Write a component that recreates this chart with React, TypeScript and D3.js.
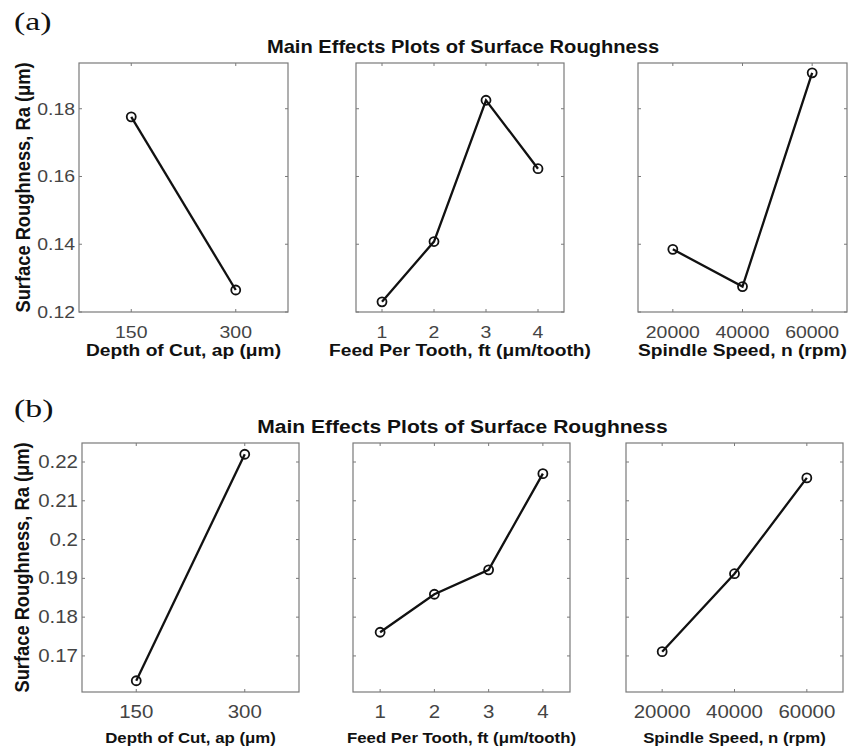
import React from "react";
import * as d3 from "d3";

const depthLevels = [150, 300];
const feedLevels = [1, 2, 3, 4];
const speedLevels = [20000, 40000, 60000];

const raA_depth = [0.1776, 0.1265];
const raA_feed = [0.123, 0.1408, 0.1825, 0.1623];
const raA_speed = [0.1385, 0.1275, 0.1906];

const raB_depth = [0.1636, 0.222];
const raB_feed = [0.1761, 0.1859, 0.1922, 0.217];
const raB_speed = [0.1711, 0.1912, 0.2159];

const yTicksA = [0.12, 0.14, 0.16, 0.18];
const yTickLabelsA = ["0.12", "0.14", "0.16", "0.18"];
const yTicksB = [0.17, 0.18, 0.19, 0.2, 0.21, 0.22];
const yTickLabelsB = ["0.17", "0.18", "0.19", "0.2", "0.21", "0.22"];

const xLabels = ["Depth of Cut, ap (μm)", "Feed Per Tooth, ft (μm/tooth)", "Spindle Speed, n (rpm)"];
const title = "Main Effects Plots of Surface Roughness";
const yLabel = "Surface Roughness, Ra (μm)";

const xDomains: [number, number][] = [[75, 375], [0.5, 4.5], [10000, 70000]];
const levels = [depthLevels, feedLevels, speedLevels];

const SANS = "'Liberation Sans', Arial, sans-serif";
const SERIF = "'Liberation Serif', 'Times New Roman', serif";
const SX = 1.15;

type FigCfg = {
  tag: string;
  tagY: number;
  titleY: number;
  titleSize: number;
  top: number;
  bottom: number;
  boxes: [number, number][];
  yDomain: [number, number];
  yTicks: number[];
  yTickLabels: string[];
  series: number[][];
  tickLabelY: number;
  xLabelY: number;
  xLabelSize: number;
  yLabelX: number;
  tickSize: number;
};

const figs: FigCfg[] = [
  {
    tag: "(a)", tagY: 30, titleY: 53, titleSize: 17.5,
    top: 63, bottom: 312,
    boxes: [[79, 288], [356, 564], [638, 847]],
    yDomain: [0.12, 0.1935],
    yTicks: yTicksA, yTickLabels: yTickLabelsA,
    series: [raA_depth, raA_feed, raA_speed],
    tickLabelY: 338, xLabelY: 356, xLabelSize: 16.7, yLabelX: 29.5, tickSize: 16.9,
  },
  {
    tag: "(b)", tagY: 417, titleY: 433, titleSize: 18.3,
    top: 443, bottom: 692,
    boxes: [[82, 299], [353, 570], [626, 843]],
    yDomain: [0.1607, 0.2249],
    yTicks: yTicksB, yTickLabels: yTickLabelsB,
    series: [raB_depth, raB_feed, raB_speed],
    tickLabelY: 718, xLabelY: 743, xLabelSize: 14.6, yLabelX: 29, tickSize: 17.8,
  },
];

const BOX = "#7a7a7a";
const TL = 3;

function T(props: { x: number; y: number; sx?: number; children: React.ReactNode; [k: string]: any }) {
  const { x, y, sx = SX, children, ...rest } = props;
  return (
    <text transform={`translate(${x},${y}) scale(${sx},1)`} {...rest}>{children}</text>
  );
}

function Figure({ f }: { f: FigCfg }) {
  const y = d3.scaleLinear().domain(f.yDomain).range([f.bottom, f.top]);
  const cx = (f.boxes[0][0] + f.boxes[2][1]) / 2;
  return (
    <g>
      <T x={14} y={f.tagY} sx={1.3} fontFamily={SERIF} fontSize={26} fill="#111">{f.tag}</T>
      <T x={cx} y={f.titleY} textAnchor="middle" fontFamily={SANS} fontWeight="bold" fontSize={f.titleSize} fill="#111">{title}</T>
      <text
        transform={`translate(${f.yLabelX},${(f.top + f.bottom) / 2}) rotate(-90) scale(1,${SX})`}
        textAnchor="middle" fontFamily={SANS} fontWeight="bold" fontSize={18.3} fill="#111"
      >{yLabel}</text>
      {f.yTicks.map((t, i) => (
        <T key={i} x={f.boxes[0][0] - 4} y={y(t) + 6} textAnchor="end" fontFamily={SANS} fontSize={f.tickSize} fill="#444">{f.yTickLabels[i]}</T>
      ))}
      {f.boxes.map((b, pi) => {
        const x = d3.scaleLinear().domain(xDomains[pi]).range(b);
        const lv = levels[pi];
        const vals = f.series[pi];
        const pts: [number, number][] = lv.map((l, k) => [x(l), y(vals[k])]);
        const line = d3.line()(pts) || "";
        return (
          <g key={pi}>
            <rect x={b[0]} y={f.top} width={b[1] - b[0]} height={f.bottom - f.top} fill="white" stroke={BOX} strokeWidth={1.2} />
            {lv.map((l, k) => (
              <g key={"xt" + k}>
                <line x1={x(l)} x2={x(l)} y1={f.bottom} y2={f.bottom - TL} stroke={BOX} />
                <line x1={x(l)} x2={x(l)} y1={f.top} y2={f.top + TL} stroke={BOX} />
                <T x={x(l)} y={f.tickLabelY} textAnchor="middle" fontFamily={SANS} fontSize={f.tickSize} fill="#444">{String(l)}</T>
              </g>
            ))}
            {f.yTicks.map((t, k) => (
              <g key={"yt" + k}>
                <line x1={b[0]} x2={b[0] + TL} y1={y(t)} y2={y(t)} stroke={BOX} />
                <line x1={b[1]} x2={b[1] - TL} y1={y(t)} y2={y(t)} stroke={BOX} />
              </g>
            ))}
            <path d={line} fill="none" stroke="#111" strokeWidth={2.3} />
            {pts.map((p, k) => (
              <circle key={"m" + k} cx={p[0]} cy={p[1]} r={4.5} fill="none" stroke="#111" strokeWidth={1.8} />
            ))}
            <T x={(b[0] + b[1]) / 2} y={f.xLabelY} textAnchor="middle" fontFamily={SANS} fontWeight="bold" fontSize={f.xLabelSize} fill="#111">{xLabels[pi]}</T>
          </g>
        );
      })}
    </g>
  );
}

export default function App() {
  return (
    <svg width={860} height={747} style={{ position: "absolute", left: 0, top: 0, background: "white" }}>
      <rect width={860} height={747} fill="white" />
      {figs.map((f, i) => <Figure key={i} f={f} />)}
    </svg>
  );
}
